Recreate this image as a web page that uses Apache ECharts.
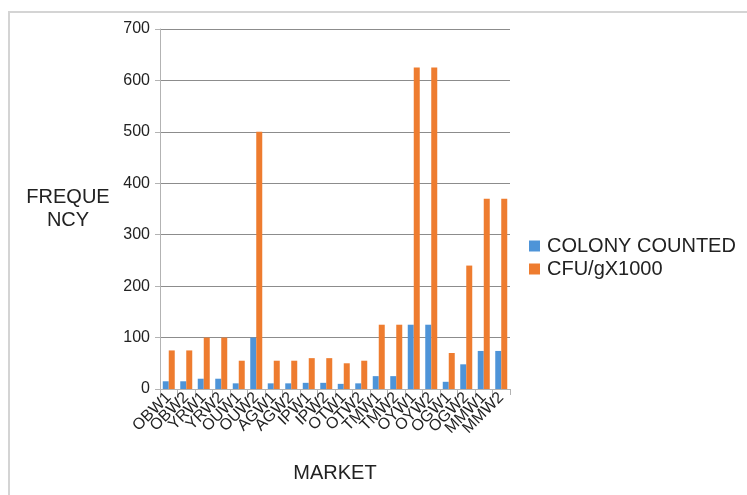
<!DOCTYPE html>
<html>
<head>
<meta charset="utf-8">
<script src="https://cdn.jsdelivr.net/npm/echarts@6/dist/echarts.min.js"></script>
<style>
html,body{margin:0;padding:0;background:#fff;}
#frame{position:absolute;left:8px;top:11px;width:739px;height:484px;border-left:2px solid #d4d4d4;border-top:2px solid #d4d4d4;box-sizing:border-box;}
#chart{position:absolute;left:0;top:0;width:747px;height:495px;}
</style>
</head>
<body>
<div id="frame"></div>
<div id="chart"></div>
<script>
const categories = ['OBW1','OBW2','YRW1','YRW2','OUW1','OUW2','AGW1','AGW2','IPW1','IPW2','OTW1','OTW2','TMW1','TMW2','OYW1','OYW2','OGW1','OGW2','MMW1','MMW2'];
const colonyCounted = [15,15,20,20,11,100,11,11,12,12,10,11,25,25,125,125,14,48,74,74];
const cfuX1000 = [75,75,100,100,55,500,55,55,60,60,50,55,125,125,625,625,70,240,370,370];
const yTicks = [0,100,200,300,400,500,600,700];

const chart = echarts.init(document.getElementById('chart'), null, {renderer:'canvas'});
const font = 'Liberation Sans, Arial, sans-serif';
chart.setOption({
  animation:false,
  textStyle:{fontFamily:font},
  grid:{left:160,right:237,top:29,bottom:106,containLabel:false},
  legend:{
    orient:'vertical', left:524, top:231, itemWidth:11, itemHeight:11, itemGap:3,
    icon:'rect',
    textStyle:{fontSize:20,color:'#222',fontFamily:font,padding:[0,0,0,2]},
    data:['COLONY COUNTED','CFU/gX1000']
  },
  xAxis:{
    type:'category', data:categories,
    name:'MARKET', nameLocation:'middle', nameGap:74,
    nameTextStyle:{fontSize:20,color:'#222',fontFamily:font},
    axisLine:{lineStyle:{color:'#b3b3b3',width:1}},
    axisTick:{show:true,length:6,alignWithLabel:false,lineStyle:{color:'#b3b3b3'}},
    axisLabel:{rotate:45,fontSize:16,color:'#222',margin:6,interval:0,fontFamily:font}
  },
  yAxis:{
    type:'value', min:yTicks[0], max:yTicks[yTicks.length-1], interval:100,
    name:'FREQUE\nNCY', nameLocation:'middle', nameGap:92, nameRotate:0,
    nameTextStyle:{fontSize:20,color:'#222',fontFamily:font,lineHeight:23,align:'center'},
    axisLine:{show:true,lineStyle:{color:'#b3b3b3'}},
    axisTick:{show:true,length:5,inside:false,lineStyle:{color:'#b3b3b3'}},
    axisLabel:{fontSize:16,color:'#222',margin:10,fontFamily:font},
    splitLine:{lineStyle:{color:'#8c8c8c',width:1}}
  },
  series:[
    {name:'COLONY COUNTED',type:'bar',data:colonyCounted,barWidth:6,barGap:'0%',itemStyle:{color:'#4E94D8'}},
    {name:'CFU/gX1000',type:'bar',data:cfuX1000,barWidth:6,barGap:'0%',itemStyle:{color:'#EE7C2F'}}
  ]
});
</script>
</body>
</html>
